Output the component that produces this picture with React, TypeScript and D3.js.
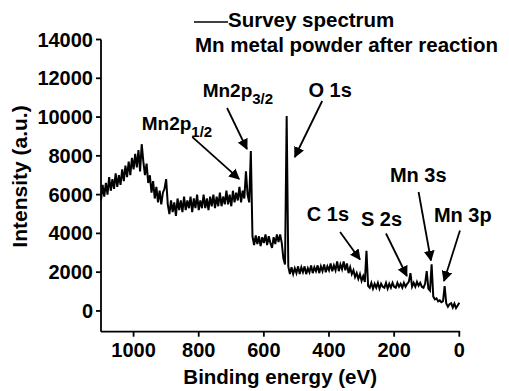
import React from "react";
import * as d3 from "d3";

// Binding energy grid (eV), high to low, 5 eV step
const energyStart = 1100;
const energyStep = 5;
// Intensity (a.u.), one value per 5 eV from 1100 down to 0
const intensity: number[] = [
  // 1100..1045
  5700, 6500, 5900, 6600, 6000, 6900, 6200, 6800, 6300, 7100, 6400, 7000,
  // 1040..975
  6500, 7300, 6700, 7500, 6900, 7700, 7000, 7900, 7300, 8100, 7400, 8300, 7200, 8600,
  // 970..930
  7700, 7000, 7600, 6600, 7000, 6100, 6700, 5800, 6400,
  // 925..895
  5600, 6200, 5500, 6100, 6300, 6800, 5500,
  // 890..700
  5000, 5700, 5100, 5600, 4900, 5800, 5200, 5700, 5100, 5900,
  5200, 5700, 5300, 5900, 5100, 5800, 5300, 6000, 5200, 5700,
  5300, 6000, 5300, 5800, 5200, 5900, 5400, 6000, 5300, 5900,
  5400, 6100, 5400, 5900, 5500, 6200, 5500, 6000, 5400,
  // 695..660
  6200, 5600, 6100, 5700, 6400, 5600, 6200, 5800,
  // 655..635 (Mn 2p)
  7200, 6000, 5600, 8250, 3850,
  // 630..550
  3400, 3900, 3450, 3850, 3350, 3800, 3500, 3950, 3400, 3850, 3500, 3250, 3800, 3450, 3950, 3550, 3950,
  // 545..520 (O 1s)
  3500, 2700, 2400, 10050, 2300, 1900,
  // 515..345
  2250, 1900, 2200, 1950, 2300, 1900, 2250, 2000, 2300, 1900,
  2200, 2000, 2350, 1950, 2250, 2050, 2350, 1950, 2300, 2050,
  2400, 2000, 2300, 2100, 2450, 2050, 2350, 2100, 2550, 2050,
  2400, 2150, 2550, 2100, 2450,
  // 340..290
  1950, 2250, 1900, 2100, 1750, 1950, 1650, 1900, 1550, 1800, 1500,
  // 285..280 (C 1s)
  3100, 1300,
  // 275..105
  1200, 1450, 1150, 1400, 1200, 1450, 1150, 1400, 1250, 1200,
  1450, 1150, 1400, 1200, 1450, 1250, 1200, 1450, 1250, 1400,
  1200, 1450, 1250, 1400, 1500, 1950, 1250, 1450, 1250, 1500,
  1300, 1450, 1250, 1200, 1400,
  // 100..0
  2050, 1150, 1050, 2400, 750, 600, 650, 500, 550, 450, 500, 1280, 380, 220, 350, 400, 180, 380, 150, 280, 420,
];

const xTicks = [1000, 800, 600, 400, 200, 0];
const yTicks = [0, 2000, 4000, 6000, 8000, 10000, 12000, 14000];

// Peak annotations: label anchor and arrow (from -> to) in data coordinates (eV, a.u.)
const peakLabels = ["Mn2p", "Mn2p", "O 1s", "C 1s", "S 2s", "Mn 3s", "Mn 3p"];
const peakSubs = ["1/2", "3/2", "", "", "", "", ""];
const labelE = [975, 788, 463, 468, 302, 213, 78];
const labelI = [9333, 11035, 11035, 4655, 4397, 6666, 4588];
const arrowFromE = [820, 713, 421, 366, 225, 125, -2];
const arrowFromI = [8974, 10467, 10828, 4072, 3995, 6135, 4151];
const arrowToE = [676, 652, 505, 305, 161, 87, 47];
const arrowToI = [6808, 8353, 7941, 2654, 1803, 2602, 1545];

const W = 509;
const H = 391;
const FONT = "Arial, 'Liberation Sans', Helvetica, sans-serif";

export default function App() {
  const x = d3.scaleLinear().domain([1100, 0]).range([101, 459.3]);
  const y = d3.scaleLinear().domain([-1070, 14000]).range([331.7, 39.5]);
  const data = intensity.map((v, i) => [energyStart - i * energyStep, v] as [number, number]);
  const line = d3
    .line<[number, number]>()
    .x((d) => x(d[0]))
    .y((d) => y(d[1]));
  const x0 = x.range()[0];
  const x1 = x.range()[1];
  const yb = y.range()[0];
  const yt = y(14000);

  return (
    <svg
      width={W}
      height={H}
      style={{ position: "absolute", left: 0, top: 0, background: "#fff" }}
      fontFamily={FONT}
      fontWeight="bold"
    >
      <defs>
        <marker
          id="ah"
          viewBox="0 0 10 10"
          refX="9"
          refY="5"
          markerWidth="6"
          markerHeight="6"
          orient="auto"
          markerUnits="strokeWidth"
        >
          <path d="M0,0 L10,5 L0,10 Z" fill="#000" />
        </marker>
      </defs>
      <rect width={W} height={H} fill="#fff" />

      {/* spectrum */}
      <path d={line(data) || ""} fill="none" stroke="#000" strokeWidth={2} strokeLinejoin="miter" />

      {/* axes */}
      <line x1={x0} x2={x0} y1={yt} y2={yb} stroke="#000" strokeWidth={1.8} />
      <line x1={x0} x2={x1 + 0.9} y1={yb} y2={yb} stroke="#000" strokeWidth={1.8} />
      {yTicks.map((t) => (
        <g key={"y" + t}>
          <line x1={x0 - 5} x2={x0} y1={y(t)} y2={y(t)} stroke="#000" strokeWidth={1.8} />
          <text x={x0 - 8} y={y(t)} dy={7} textAnchor="end" fontSize={20}>
            {t}
          </text>
        </g>
      ))}
      {xTicks.map((t) => (
        <g key={"x" + t}>
          <line x1={x(t)} x2={x(t)} y1={yb} y2={yb + 5} stroke="#000" strokeWidth={1.8} />
          <text x={x(t)} y={357} textAnchor="middle" fontSize={20}>
            {t}
          </text>
        </g>
      ))}
      <text x={(x0 + x1) / 2} y={384} textAnchor="middle" fontSize={20.5}>
        Binding energy (eV)
      </text>
      <text transform="translate(27,176.5) rotate(-90)" textAnchor="middle" fontSize={21}>
        Intensity (a.u.)
      </text>

      {/* legend */}
      <line x1={194} x2={228} y1={22} y2={22} stroke="#000" strokeWidth={1.4} />
      <text x={228} y={27} fontSize={20.5}>
        Survey spectrum
      </text>
      <text x={195} y={52} fontSize={20.5}>
        Mn metal powder after reaction
      </text>

      {/* annotations */}
      {peakLabels.map((lab, i) => (
        <g key={"a" + i}>
          <line
            x1={x(arrowFromE[i])}
            y1={y(arrowFromI[i])}
            x2={x(arrowToE[i])}
            y2={y(arrowToI[i])}
            stroke="#000"
            strokeWidth={1.8}
            markerEnd="url(#ah)"
          />
          <text x={x(labelE[i])} y={y(labelI[i])} fontSize={peakSubs[i] ? 19 : 20}>
            {lab}
            {peakSubs[i] ? (
              <tspan fontSize={15} dy={7}>
                {peakSubs[i]}
              </tspan>
            ) : null}
          </text>
        </g>
      ))}
    </svg>
  );
}
